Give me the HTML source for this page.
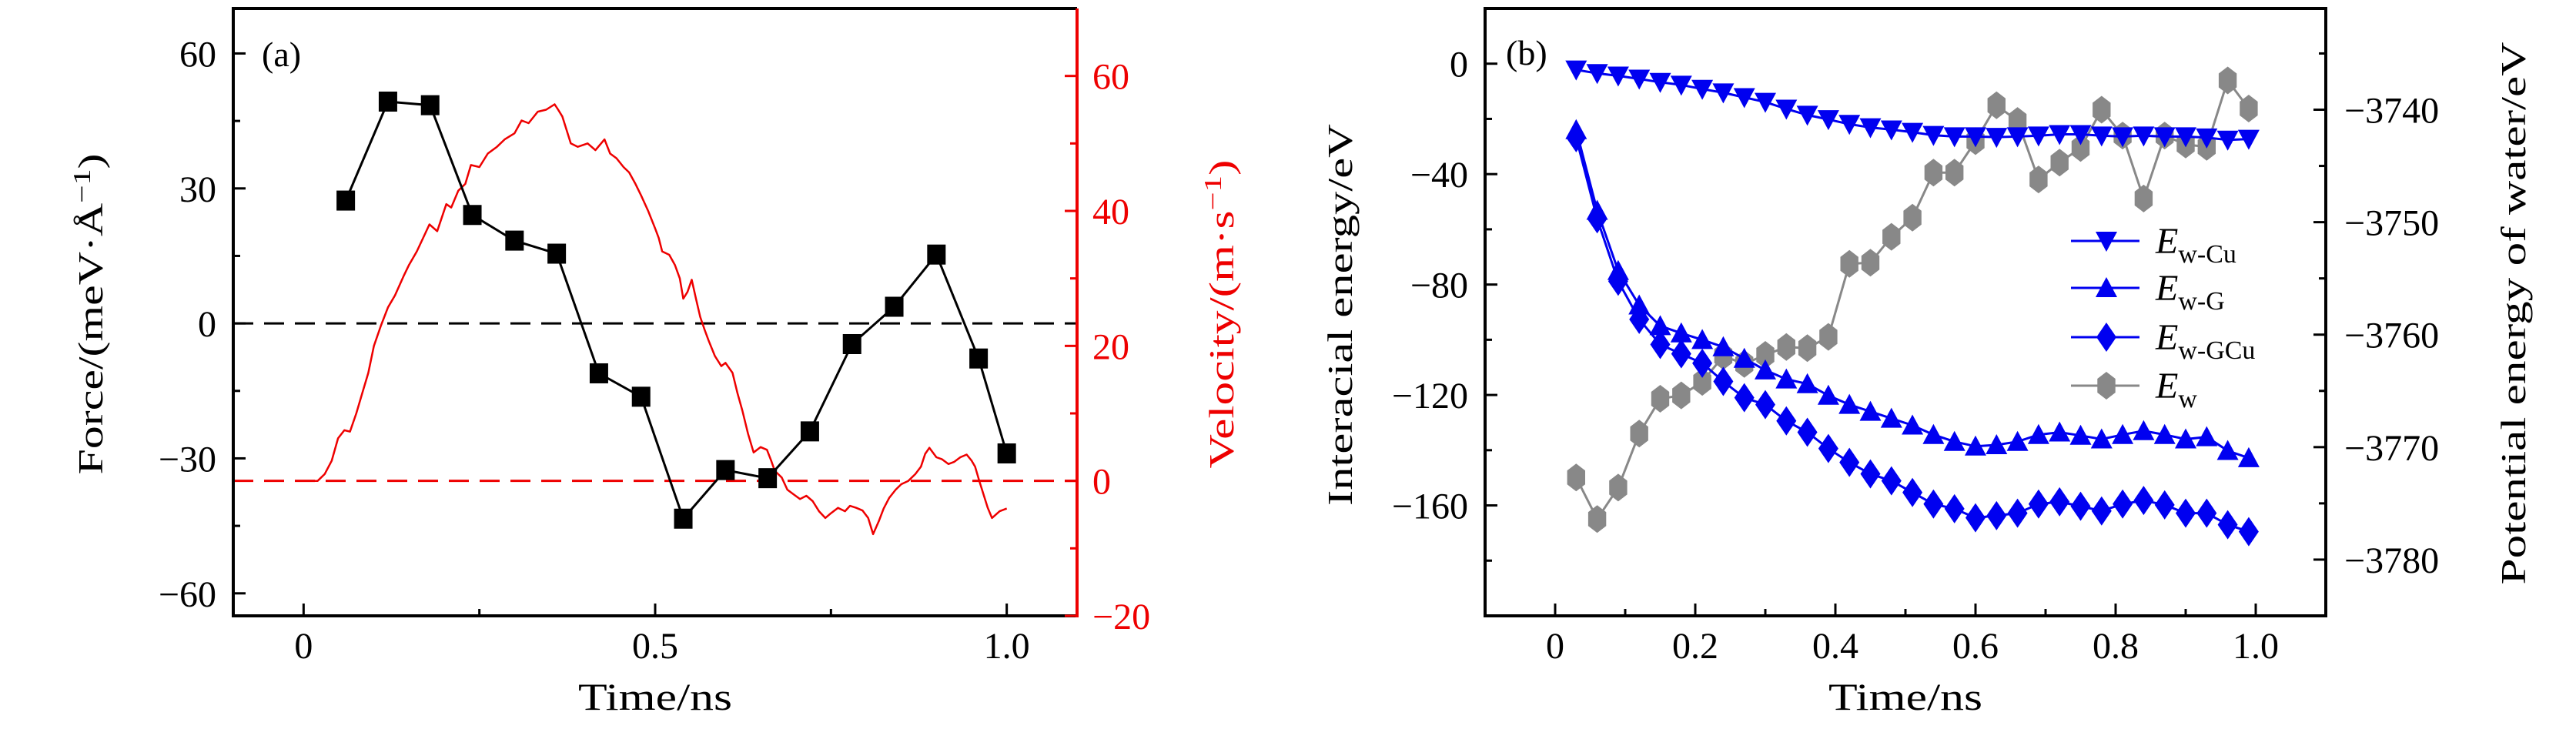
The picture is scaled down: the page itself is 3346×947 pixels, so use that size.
<!DOCTYPE html>
<html><head><meta charset="utf-8"><style>
html,body{margin:0;padding:0;background:#fff;}
svg{display:block;font-family:"Liberation Serif",serif;}
</style></head><body>
<svg id="fig" width="3346" height="947" viewBox="0 0 3346 947" xmlns="http://www.w3.org/2000/svg"></svg>
<script>
// ---------- Panel (a) data ----------
const forceTimes = [0.06,0.12,0.18,0.24,0.30,0.36,0.42,0.48,0.54,0.60,0.66,0.72,0.78,0.84,0.90,0.96,1.00];
const forceValues = [27.3,49.3,48.5,24.1,18.4,15.5,-11.1,-16.3,-43.4,-32.6,-34.4,-24.0,-4.6,3.7,15.3,-7.8,-28.9];
const velTimes = [0,0.02,0.03,0.04,0.049,0.058,0.066,0.075,0.084,0.092,0.10,0.11,0.12,0.13,0.143,0.15,0.161,0.17,0.179,0.19,0.203,0.21,0.22,0.23,0.238,0.25,0.262,0.275,0.286,0.3,0.31,0.32,0.333,0.345,0.357,0.362,0.368,0.374,0.38,0.39,0.404,0.415,0.428,0.436,0.445,0.455,0.463,0.472,0.48,0.49,0.50,0.505,0.51,0.52,0.528,0.535,0.54,0.546,0.552,0.558,0.564,0.57,0.576,0.585,0.594,0.6,0.61,0.617,0.624,0.632,0.64,0.65,0.659,0.665,0.67,0.68,0.688,0.697,0.706,0.715,0.724,0.733,0.742,0.75,0.76,0.77,0.777,0.786,0.795,0.803,0.81,0.818,0.825,0.833,0.842,0.85,0.86,0.87,0.878,0.884,0.89,0.9,0.908,0.917,0.925,0.934,0.943,0.95,0.955,0.961,0.967,0.973,0.979,0.99,1.0];
const velValues = [0,0,1,3,6.3,7.5,7.3,10,13.2,16,20,23,25.7,27.5,30.5,32,34,36,38,37,41,40.5,43,44,46.8,46.5,48.5,49.5,50.6,51.5,53.4,53,54.7,55,55.8,55,54,52,50,49.5,50,49,50.6,48.5,47.8,46.5,45.7,44,42.3,40,37.4,36,34,33.5,32,30,27,28,29.8,27,24.3,22.5,20.8,18.5,17,17.5,16,13,10.4,7,4.2,5,4.6,3,1.5,0.5,-1.3,-2,-2.7,-2.2,-3,-4.5,-5.5,-4.8,-4,-4.5,-3.7,-4,-4.4,-5.5,-7.9,-6,-4.1,-2.5,-1.3,-0.5,0,1,2.1,4,4.9,3.5,3.2,2.5,2.8,3.5,3.9,3,2.1,0,-2,-4,-5.5,-4.5,-4.1];
const aXTicks = [0,0.5,1.0];
const aXTickLabels = ["0","0.5","1.0"];
const aYTicks = [60,30,0,-30,-60];
const aYTickLabels = ["60","30","0","\u221230","\u221260"];
const aY2Ticks = [60,40,20,0,-20];
const aY2TickLabels = ["60","40","20","0","\u221220"];
// ---------- Panel (b) data ----------
const bTimes = [0.03,0.06,0.09,0.12,0.15,0.18,0.21,0.24,0.27,0.30,0.33,0.36,0.39,0.42,0.45,0.48,0.51,0.54,0.57,0.60,0.63,0.66,0.69,0.72,0.75,0.78,0.81,0.84,0.87,0.90,0.93,0.96,0.99];
const eWCu = [-2.2,-3.5,-4.4,-5.5,-6.7,-7.7,-9.2,-10.5,-12.2,-13.9,-16.4,-18.6,-20.2,-21.9,-23.1,-23.9,-24.8,-25.9,-26.4,-26.4,-26.6,-26.4,-26.1,-25.6,-25.6,-26.1,-26.4,-26.1,-26.4,-26.4,-26.8,-27.6,-27.3];
const eWG = [-24,-53.2,-75,-87.5,-95,-97.6,-100,-102.6,-106.8,-111,-114.3,-116,-120.2,-123.5,-126,-128.5,-131,-134.4,-136.9,-138.6,-138.1,-136.9,-134.4,-133.5,-134.7,-136,-134.4,-133,-134.4,-136,-135.2,-140.2,-142.8];
const eWGCu = [-26.8,-56.2,-78.8,-92.6,-101.7,-105.1,-108.5,-115.1,-121,-123.5,-129.4,-133.5,-139.4,-144.4,-148.6,-151.1,-155.3,-159.5,-161.2,-164.5,-163.7,-162.8,-159.5,-158.7,-160.3,-162,-159.5,-158.2,-159.8,-162.8,-162.8,-167,-169.5];
const eW = [-3772.7,-3776.4,-3773.6,-3768.8,-3765.7,-3765.4,-3764.2,-3761.9,-3762.6,-3761.8,-3761.1,-3761.2,-3760.2,-3753.7,-3753.6,-3751.3,-3749.6,-3745.6,-3745.6,-3742.8,-3739.6,-3741,-3746.2,-3744.7,-3743.4,-3740,-3742.3,-3747.9,-3742.3,-3743.1,-3743.3,-3737.4,-3739.9];
const bXTicks = [0,0.2,0.4,0.6,0.8,1.0];
const bXTickLabels = ["0","0.2","0.4","0.6","0.8","1.0"];
const bYTicks = [0,-40,-80,-120,-160];
const bYTickLabels = ["0","\u221240","\u221280","\u2212120","\u2212160"];
const bY2Ticks = [-3740,-3750,-3760,-3770,-3780];
const bY2TickLabels = ["\u22123740","\u22123750","\u22123760","\u22123770","\u22123780"];

const NS="http://www.w3.org/2000/svg";
const svg=document.getElementById('fig');
function mk(tag,attrs,parent){const e=document.createElementNS(NS,tag);for(const k in attrs)e.setAttribute(k,attrs[k]);(parent||svg).appendChild(e);return e;}
function lin(d0,d1,r0,r1){return v=>r0+(v-d0)/(d1-d0)*(r1-r0);}

// ---------- Panel (a) ----------
const aL=303,aR=1399,aT=11,aB=800;
const ax=lin(-0.1,1.1,aL,aR), ay=lin(-65,70,aB,aT), ay2=lin(-20,70,aB,aT);
const ga=mk('g',{});


let dl=mk('line',{x1:aL,x2:aR,y1:ay(0),y2:ay(0),stroke:'#000','stroke-width':3,'stroke-dasharray':'26,14'},ga);


dl=mk('line',{x1:aL,x2:aR,y1:ay2(0),y2:ay2(0),stroke:'#e00','stroke-width':3,'stroke-dasharray':'26,14'},ga);


let vp=velTimes.map((t,i)=>(i?'L':'M')+ax(t).toFixed(1)+','+ay2(velValues[i]).toFixed(1)).join('');
let vl=mk('path',{d:vp,fill:'none',stroke:'#e00','stroke-width':2.5,'stroke-linejoin':'round'},ga);


let fp=forceTimes.map((t,i)=>(i?'L':'M')+ax(t).toFixed(1)+','+ay(forceValues[i]).toFixed(1)).join('');
let fl=mk('path',{d:fp,fill:'none',stroke:'#000','stroke-width':3},ga);


forceTimes.forEach((t,i)=>{const r=mk('rect',{x:ax(t)-12,y:ay(forceValues[i])-13,width:24,height:26,fill:'#000'},ga);

});
let box=mk('path',{d:`M${aR},${aT}L${aL},${aT}L${aL},${aB}L${aR},${aB}`,fill:'none',stroke:'#000','stroke-width':4},ga);


let rax=mk('line',{x1:aR,x2:aR,y1:aT,y2:aB+2,stroke:'#e00','stroke-width':4},ga);


aXTicks.forEach((t,i)=>{mk('line',{x1:ax(t),x2:ax(t),y1:aB,y2:aB-16,stroke:'#000','stroke-width':3},ga);
const tx=mk('text',{x:ax(t),y:aB+55,'font-size':48,'text-anchor':'middle'},ga);tx.textContent=aXTickLabels[i];

});
[0.25,0.75].forEach(t=>mk('line',{x1:ax(t),x2:ax(t),y1:aB,y2:aB-9,stroke:'#000','stroke-width':3},ga));
aYTicks.forEach((v,i)=>{mk('line',{x1:aL,x2:aL+16,y1:ay(v),y2:ay(v),stroke:'#000','stroke-width':3},ga);
const tx=mk('text',{x:aL-22,y:ay(v)+17,'font-size':48,'text-anchor':'end'},ga);tx.textContent=aYTickLabels[i];

});
[45,15,-15,-45].forEach(v=>mk('line',{x1:aL,x2:aL+9,y1:ay(v),y2:ay(v),stroke:'#000','stroke-width':3},ga));
aY2Ticks.forEach((v,i)=>{mk('line',{x1:aR,x2:aR-16,y1:ay2(v),y2:ay2(v),stroke:'#e00','stroke-width':3},ga);
const tx=mk('text',{x:aR+20,y:ay2(v)+17,'font-size':48,fill:'#e00'},ga);tx.textContent=aY2TickLabels[i];

});
[50,30,10,-10].forEach(v=>mk('line',{x1:aR,x2:aR-9,y1:ay2(v),y2:ay2(v),stroke:'#e00','stroke-width':3},ga));
let t=mk('text',{x:ax(0.5),y:922,'font-size':50,'text-anchor':'middle',textLength:200,lengthAdjust:'spacingAndGlyphs'},ga);t.textContent='Time/ns';


t=mk('text',{x:0,y:0,'font-size':46,'text-anchor':'middle',transform:'translate(133,408) rotate(-90)',textLength:417,lengthAdjust:'spacingAndGlyphs'},ga);
t.innerHTML='Force/(meV·Å<tspan dy="-16" font-size="32">−1</tspan><tspan dy="16">)</tspan>';


t=mk('text',{x:0,y:0,'font-size':46,'text-anchor':'middle',fill:'#e00',transform:'translate(1602,408) rotate(-90)',textLength:401,lengthAdjust:'spacingAndGlyphs'},ga);
t.innerHTML='Velocity/(m·s<tspan dy="-16" font-size="32">−1</tspan><tspan dy="16">)</tspan>';


t=mk('text',{x:340,y:86,'font-size':46},ga);t.textContent='(a)';



// ---------- Panel (b) ----------
const bL=1929,bR=3021,bT=11,bB=800;
const bx=lin(-0.1,1.1,bL,bR), by=lin(-200,20,bB,bT), by2=lin(-3785,-3731,bB,bT);
const gb=mk('g',{});


function hexPath(cx,cy,r){let p='';for(let k=0;k<6;k++){const a=Math.PI/6+k*Math.PI/3;p+=(k?'L':'M')+(cx+r*0.75*Math.cos(a)).toFixed(1)+','+(cy+r*Math.sin(a)).toFixed(1);}return p+'Z';}
function marker(type,cx,cy,col,parent){
  let d;
  if(type==='down') d=`M${cx-14},${cy-12}L${cx+14},${cy-12}L${cx},${cy+14}Z`;
  else if(type==='up') d=`M${cx-14},${cy+12}L${cx+14},${cy+12}L${cx},${cy-14}Z`;
  else if(type==='diamond') d=`M${cx},${cy-19}L${cx+13},${cy}L${cx},${cy+19}L${cx-13},${cy}Z`;
  else d=hexPath(cx,cy,18);
  return mk('path',{d:d,fill:col},parent);
}
const series=[
  {vals:eW,type:'hex',col:'#888',sc:by2,name:'ew'},
  {vals:eWGCu,type:'diamond',col:'#0000f0',sc:by,name:'ew-gcu'},
  {vals:eWG,type:'up',col:'#0000f0',sc:by,name:'ew-g'},
  {vals:eWCu,type:'down',col:'#0000f0',sc:by,name:'ew-cu'}
];
series.forEach(s=>{
  const p=bTimes.map((tt,i)=>(i?'L':'M')+bx(tt).toFixed(1)+','+s.sc(s.vals[i]).toFixed(1)).join('');
  const l=mk('path',{d:p,fill:'none',stroke:s.col,'stroke-width':3},gb);
  
  
  bTimes.forEach((tt,i)=>{const m=marker(s.type,bx(tt),s.sc(s.vals[i]),s.col,gb);
  
  });
});
box=mk('rect',{x:bL,y:bT,width:bR-bL,height:bB-bT,fill:'none',stroke:'#000','stroke-width':4},gb);


bXTicks.forEach((v,i)=>{mk('line',{x1:bx(v),x2:bx(v),y1:bB,y2:bB-16,stroke:'#000','stroke-width':3},gb);
const tx=mk('text',{x:bx(v),y:bB+55,'font-size':48,'text-anchor':'middle'},gb);tx.textContent=bXTickLabels[i];

});
[0.1,0.3,0.5,0.7,0.9].forEach(v=>mk('line',{x1:bx(v),x2:bx(v),y1:bB,y2:bB-9,stroke:'#000','stroke-width':3},gb));
bYTicks.forEach((v,i)=>{mk('line',{x1:bL,x2:bL+16,y1:by(v),y2:by(v),stroke:'#000','stroke-width':3},gb);
const tx=mk('text',{x:bL-22,y:by(v)+17,'font-size':48,'text-anchor':'end'},gb);tx.textContent=bYTickLabels[i];

});
[-20,-60,-100,-140,-180].forEach(v=>mk('line',{x1:bL,x2:bL+9,y1:by(v),y2:by(v),stroke:'#000','stroke-width':3},gb));
bY2Ticks.forEach((v,i)=>{mk('line',{x1:bR,x2:bR-16,y1:by2(v),y2:by2(v),stroke:'#000','stroke-width':3},gb);
const tx=mk('text',{x:bR+24,y:by2(v)+17,'font-size':48},gb);tx.textContent=bY2TickLabels[i];

});
[-3735,-3745,-3755,-3765,-3775].forEach(v=>mk('line',{x1:bR,x2:bR-9,y1:by2(v),y2:by2(v),stroke:'#000','stroke-width':3},gb));
t=mk('text',{x:bx(0.5),y:922,'font-size':50,'text-anchor':'middle',textLength:200,lengthAdjust:'spacingAndGlyphs'},gb);t.textContent='Time/ns';


t=mk('text',{x:0,y:0,'font-size':46,'text-anchor':'middle',transform:'translate(1756,409) rotate(-90)',textLength:496,lengthAdjust:'spacingAndGlyphs'},gb);t.textContent='Interacial energy/eV';


t=mk('text',{x:0,y:0,'font-size':46,'text-anchor':'middle',transform:'translate(3280,407) rotate(-90)',textLength:705,lengthAdjust:'spacingAndGlyphs'},gb);t.textContent='Potential energy of water/eV';


t=mk('text',{x:1956,y:84,'font-size':46},gb);t.textContent='(b)';


const legItems=[['down','#0000f0','w-Cu'],['up','#0000f0','w-G'],['diamond','#0000f0','w-GCu'],['hex','#888','w']];
const legY=[313,374,438,501];
legItems.forEach((it,i)=>{
  const g=mk('g',{},gb);
  
  
  mk('line',{x1:2690,x2:2779,y1:legY[i],y2:legY[i],stroke:it[1],'stroke-width':3},g);
  marker(it[0],2736,legY[i],it[1],g);
  const tx=mk('text',{x:2800,y:legY[i]+16,'font-size':48},g);
  tx.innerHTML='<tspan font-style="italic">E</tspan><tspan dy="12" font-size="34">'+it[2]+'</tspan>';
});
</script>
</body></html>
